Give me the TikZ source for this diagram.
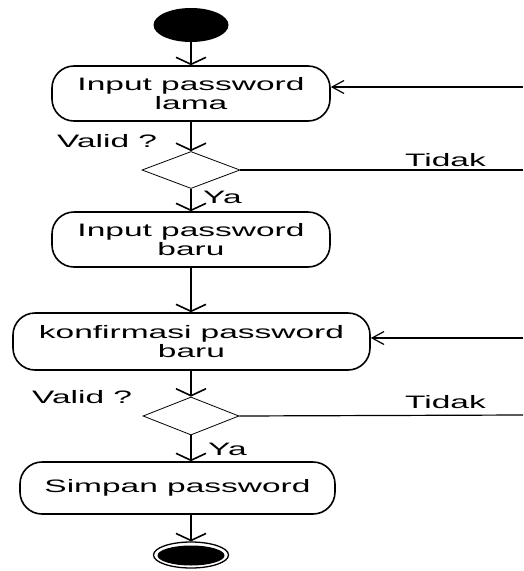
\documentclass[tikz,border=0pt]{standalone}
\usepackage{fontspec}
\setmainfont[FakeStretch=1.86]{Liberation Sans}
\usetikzlibrary{shapes.geometric,arrows.meta}
\begin{document}
\begin{tikzpicture}[x=1pt,y=-1pt,
  txt/.style={font=\fontsize{18}{19}\selectfont},
  act/.style={txt,draw,line width=1.6pt,rounded corners=22pt,align=center,inner sep=0pt},
  dec/.style={draw,diamond,line width=0.8pt,inner sep=0pt,aspect=2.65},
  lbl/.style={txt,inner sep=0pt},
  varr/.style={line width=1.6pt,-{Straight Barb[length=7pt,width=30pt]}},
  harr/.style={line width=1.2pt,-{Straight Barb[length=12pt,width=13pt]}},
  hline/.style={line width=1.2pt}
]
\useasboundingbox (0,0) rectangle (523,571);
% start
\node[fill=black,ellipse,minimum width=75pt,minimum height=34pt,inner sep=0pt] (start) at (191,25) {};
% activities
\node[act,minimum width=278pt,minimum height=55pt] (b1) at (191,93.5) {Input password\\lama};
\node[dec,minimum width=98pt,minimum height=37pt] (d1) at (191,170) {};
\node[act,minimum width=278pt,minimum height=55pt] (b2) at (191,239.5) {Input password\\baru};
\node[act,minimum width=357pt,minimum height=57pt] (b3) at (191.5,341.5) {konfirmasi password\\baru};
\node[dec,minimum width=96pt,minimum height=38pt] (d2) at (191,416) {};
\node[act,minimum width=315pt,minimum height=52pt] (b4) at (177.5,488) {Simpan password};
% end
\node[draw,line width=1.3pt,ellipse,minimum width=75pt,minimum height=26pt,inner sep=0pt] (endo) at (191,555) {};
\node[fill=black,ellipse,minimum width=67pt,minimum height=20pt,inner sep=0pt] (endi) at (191,555.5) {};
% labels
\node[lbl,anchor=base west] (v1) at (57,147) {Valid ?};
\node[lbl,anchor=base west] (v2) at (32,403) {Valid ?};
\node[lbl,anchor=base west] (y1) at (203,203) {Ya};
\node[lbl,anchor=base west] (y2) at (208,455) {Ya};
\node[lbl,anchor=base west] (t1l) at (405,166) {Tidak};
\node[lbl,anchor=base west] (t2l) at (405,408) {Tidak};
% free ends
\coordinate (r1) at (523,87);
\coordinate (r3) at (523,338);
\coordinate (t1) at (523,170);
\coordinate (t2) at (523,415);
% connectors
\draw[varr] (start.south) -- (b1.north);
\draw[varr] (b1.south) -- (d1.north);
\draw[varr] (d1.south) -- (b2.north);
\draw[varr] (b2.south) -- (b2.south |- b3.north);
\draw[varr] (b2.south |- b3.south) -- (d2.north);
\draw[varr] (d2.south) -- (d2.south |- b4.north);
\draw[varr] (d2.south |- b4.south) -- (endo.north);
\draw[hline] (d1.east) -- (t1);
\draw[hline] (d2.east) -- (t2);
\draw[harr] (r1) -- (r1 -| b1.east);
\draw[harr] (r3) -- (r3 -| b3.east);
\end{tikzpicture}
\end{document}
